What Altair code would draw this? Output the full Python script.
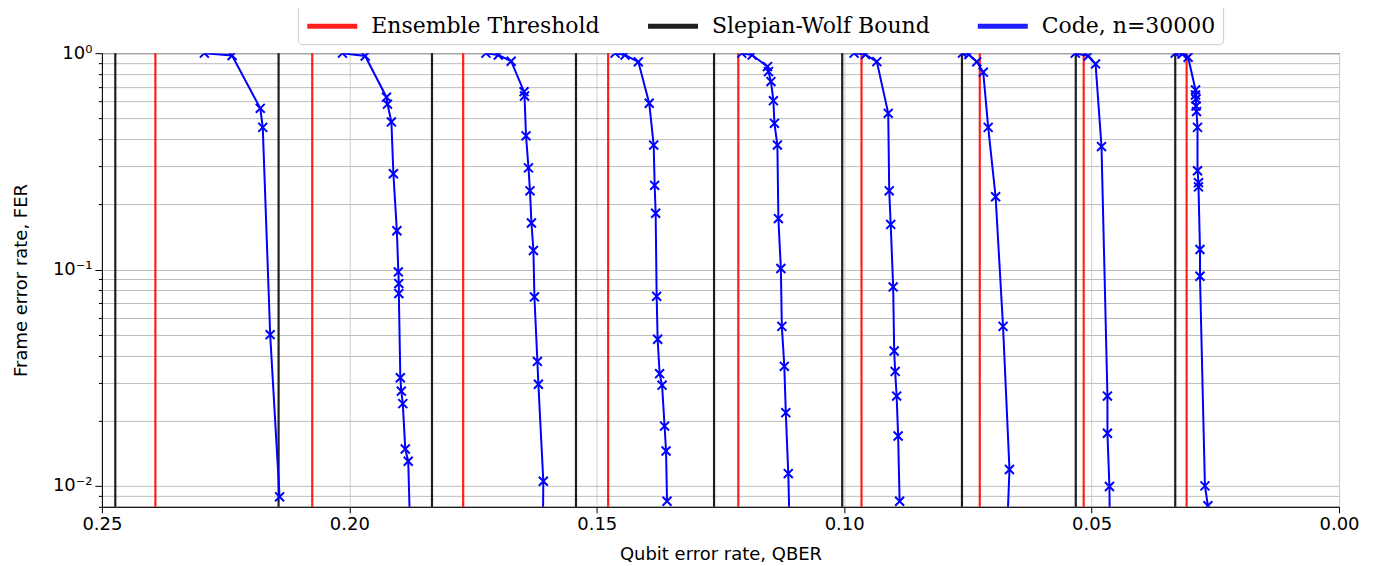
import altair as alt
import pandas as pd

series_names = ["Ensemble Threshold", "Slepian-Wolf Bound", "Code, n=30000"]
series_colors = ["#ff0000", "#000000", "#0000ff"]

ensemble_threshold = [0.2392, 0.2075, 0.1770, 0.1477, 0.1214, 0.0965, 0.0726, 0.0516, 0.0308]
slepian_wolf = [0.2473, 0.2143, 0.1833, 0.1542, 0.1263, 0.1004, 0.0762, 0.0532, 0.0331]

qber_1 = [0.2293, 0.2237, 0.2180, 0.2175, 0.2160, 0.2141]
fer_1 = [1.0, 0.975, 0.556, 0.454, 0.050, 0.0089]

qber_2 = [0.2014, 0.1968, 0.1925, 0.1923, 0.1915, 0.1911, 0.1904, 0.1901, 0.1900, 0.1900,
          0.1897, 0.1895, 0.1892, 0.1887, 0.1881, 0.1877]
fer_2 = [1.0, 0.97, 0.626, 0.581, 0.481, 0.277, 0.151, 0.0975, 0.0861, 0.0774,
         0.0316, 0.0274, 0.0240, 0.0148, 0.0130, 0.006]

qber_3 = [0.1724, 0.1699, 0.1673, 0.1647, 0.1646, 0.1643, 0.1638, 0.1635, 0.1632, 0.1628,
          0.1626, 0.1620, 0.1618, 0.1608, 0.1609]
fer_3 = [1.0, 0.98, 0.918, 0.664, 0.634, 0.415, 0.295, 0.231, 0.164, 0.1225,
         0.0747, 0.0376, 0.0295, 0.0105, 0.006]

qber_4 = [0.1463, 0.1443, 0.1416, 0.1394, 0.1385, 0.1383, 0.1381, 0.1379, 0.1377, 0.1373,
          0.1368, 0.1363, 0.1360, 0.1358]
fer_4 = [1.0, 0.98, 0.912, 0.587, 0.376, 0.245, 0.182, 0.0752, 0.0476, 0.0330,
         0.0292, 0.0189, 0.0145, 0.00849]

qber_5 = [0.1207, 0.1186, 0.1155, 0.1153, 0.1148, 0.1143, 0.1141, 0.1135, 0.1133, 0.1128,
          0.1126, 0.1121, 0.1118, 0.1113, 0.1110]
fer_5 = [1.0, 0.98, 0.867, 0.822, 0.739, 0.603, 0.474, 0.376, 0.172, 0.1011,
         0.0546, 0.0357, 0.0218, 0.0114, 0.006]

qber_6 = [0.0980, 0.0957, 0.0934, 0.0911, 0.0909, 0.0906, 0.0901, 0.0899, 0.0897, 0.0894,
          0.0891, 0.0888]
fer_6 = [1.0, 0.985, 0.914, 0.527, 0.231, 0.1616, 0.0831, 0.0420, 0.0338, 0.0260,
         0.0170, 0.00849]

qber_7 = [0.0761, 0.0748, 0.0732, 0.0719, 0.0709, 0.0694, 0.0679, 0.0666, 0.0671]
fer_7 = [1.0, 0.985, 0.912, 0.817, 0.454, 0.217, 0.0546, 0.0119, 0.006]

qber_8 = [0.0533, 0.0507, 0.0492, 0.0480, 0.0468, 0.0468, 0.0464, 0.0463]
fer_8 = [1.0, 0.97, 0.892, 0.370, 0.0260, 0.0175, 0.00993, 0.006]

qber_9 = [0.0331, 0.0317, 0.0305, 0.0290, 0.0290, 0.0289, 0.0289, 0.0288, 0.0286, 0.0286,
          0.0284, 0.0284, 0.0281, 0.0281, 0.0271, 0.0265]
fer_9 = [1.0, 0.99, 0.958, 0.676, 0.641, 0.614, 0.570, 0.537, 0.454, 0.286,
         0.252, 0.241, 0.1238, 0.0931, 0.0100, 0.0081]

x_ticks = [0.25, 0.20, 0.15, 0.10, 0.05, 0.00]
y_ticks = [0.008, 0.009, 0.01, 0.02, 0.03, 0.04, 0.05, 0.06, 0.07, 0.08, 0.09,
           0.1, 0.2, 0.3, 0.4, 0.5, 0.6, 0.7, 0.8, 0.9, 1.0]

# ---- tables ----
rules_rows = []
for v in ensemble_threshold:
    rules_rows.append({"qber": v, "series": series_names[0]})
for v in slepian_wolf:
    rules_rows.append({"qber": v, "series": series_names[1]})
rules_df = pd.DataFrame(rules_rows)

curves = [(qber_1, fer_1), (qber_2, fer_2), (qber_3, fer_3), (qber_4, fer_4), (qber_5, fer_5),
          (qber_6, fer_6), (qber_7, fer_7), (qber_8, fer_8), (qber_9, fer_9)]
code_rows = []
for ci, (qs, fs) in enumerate(curves):
    for i, (q, f) in enumerate(zip(qs, fs)):
        code_rows.append({"qber": q, "fer": f, "curve": ci, "idx": i, "series": series_names[2]})
code_df = pd.DataFrame(code_rows)

decade_test = "abs(log(datum.value)/LN10 - round(log(datum.value)/LN10)) < 0.001"
label_expr = (
    "(" + decade_test + ") ? ('10' + (round(log(datum.value)/LN10) == 0 ? '\u2070' : "
    "(round(log(datum.value)/LN10) == -1 ? '\u207b\u00b9' : '\u207b\u00b2'))) : ''"
)

x_enc = alt.X(
    "qber:Q",
    scale=alt.Scale(domain=[0, 0.25], reverse=True, nice=False, zero=False),
    axis=alt.Axis(
        title="Qubit error rate, QBER",
        values=x_ticks,
        format=".2f",
        tickSize=6,
        labelPadding=3,
        labelFlush=False,
        grid=True,
        gridColor="#d0d0d0",
        titlePadding=12,
    ),
)

y_enc = alt.Y(
    "fer:Q",
    scale=alt.Scale(type="log", domain=[0.008, 1.0], nice=False),
    axis=alt.Axis(
        title="Frame error rate, FER",
        values=y_ticks,
        labelExpr=label_expr,
        tickSize={"condition": {"test": decade_test, "value": 7}, "value": 3.5},
        labelPadding=3,
        grid=True,
        gridColor="#bdbdbd",
        titlePadding=22,
    ),
)

color_enc = alt.Color(
    "series:N",
    scale=alt.Scale(domain=series_names, range=series_colors),
    legend=alt.Legend(
        title=None,
        orient="none",
        legendX=196,
        legendY=-49,
        direction="horizontal",
        symbolType="M-2,0L2,0",
        symbolSize=625,
        symbolOffset=12.5,
        symbolStrokeWidth=5,
        labelFont="DejaVu Serif",
        labelFontSize=22,
        labelColor="black",
        labelLimit=500,
        labelOffset=24,
        columnPadding=37,
        padding=7,
        strokeColor="#cccccc",
        fillColor="white",
        cornerRadius=4,
    ),
)

rules = alt.Chart(rules_df).mark_rule(strokeWidth=2.2, opacity=0.88).encode(
    x=x_enc, color=color_enc
)

lines = alt.Chart(code_df).mark_line(strokeWidth=2, clip=True).encode(
    x=x_enc, y=y_enc, detail="curve:N", order="idx:Q", color=color_enc
)

points = alt.Chart(code_df).mark_point(
    shape="M-1,-1L1,1M-1,1L1,-1",
    size=80,
    strokeWidth=2,
    color="#0000ff",
    filled=False,
    opacity=1,
    clip=True,
).encode(x=x_enc, y=y_enc)

chart = (
    alt.layer(rules, lines, points)
    .properties(
        width=1238,
        height=454,
        autosize=alt.AutoSizeParams(type="none"),
        padding={"left": 94, "top": 45, "right": 40, "bottom": 58},
    )
    .configure_view(stroke="black", strokeWidth=1)
    .configure_axis(
        labelFont="DejaVu Sans",
        labelFontSize=18,
        labelColor="black",
        titleFont="DejaVu Sans",
        titleFontSize=18,
        titleFontWeight="normal",
        titleColor="black",
        domainColor="black",
        tickColor="black",
        gridWidth=1,
    )
)

chart.save("out.html", embed_options={"renderer": "svg", "actions": False})
